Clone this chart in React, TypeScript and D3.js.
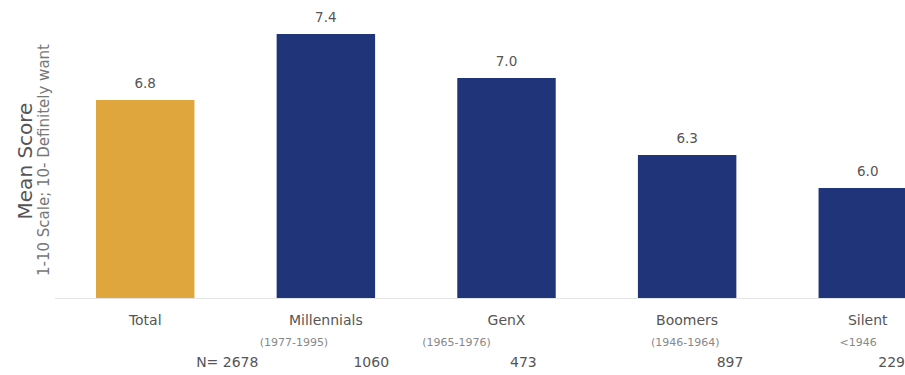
import React from "react";
import * as d3 from "d3";

const categories = ["Total", "Millennials", "GenX", "Boomers", "Silent"];
const scores = [6.8, 7.4, 7.0, 6.3, 6.0];
const birthYears = ["", "(1977-1995)", "(1965-1976)", "(1946-1964)", "<1946"];
const sampleSizes = ["N= 2678", "1060", "473", "897", "229"];
const scoreDomain = [5, 7.4];

const W = 905;
const H = 375;
const baseY = 298;
const FONT = "'DejaVu Sans', Verdana, sans-serif";

// horizontal nudges for the footnote rows, relative to each bar
const yearShift = [0, -17, -35, 13, 21];
const sizeShift = [64, 14, -19, 7, -12];

export default function App() {
  const x = d3.scaleBand<string>().domain(categories).range([55, 958]).paddingInner(0.455).paddingOuter(0.227);
  const y = d3.scaleLinear().domain(scoreDomain).range([baseY, 34]);
  const bw = x.bandwidth();

  return (
    <svg width={W} height={H} style={{ position: "absolute", left: 0, top: 0, background: "#fff" }} fontFamily={FONT}>
      <line x1={55} x2={W} y1={baseY + 0.5} y2={baseY + 0.5} stroke="#e4e4e4" strokeWidth={1} />
      {categories.map((c, i) => {
        const x0 = x(c)!;
        const cx = x0 + bw / 2;
        return (
          <g key={c}>
            <rect x={x0} y={y(scores[i])} width={bw} height={baseY - y(scores[i])} fill={i === 0 ? "#DFA63E" : "#1F3479"} />
            <text x={cx} y={y(scores[i]) - 12} textAnchor="middle" fontSize={13.5} fill="#555">
              {scores[i].toFixed(1)}
            </text>
            <text x={cx} y={325} textAnchor="middle" fontSize={14} fill="#555">
              {c}
            </text>
            {birthYears[i] && (
              <text x={x0 + yearShift[i]} y={346} fontSize={11} fill="#888">
                {birthYears[i]}
              </text>
            )}
            <text x={x0 + bw + sizeShift[i]} y={367} textAnchor="end" fontSize={14} fill="#555">
              {sampleSizes[i]}
            </text>
          </g>
        );
      })}
      <text transform="translate(32,161) rotate(-90)" textAnchor="middle" fontSize={20} fill="#555">
        Mean Score
      </text>
      <text transform="translate(49,160) rotate(-90)" textAnchor="middle" fontSize={15} fill="#777">
        1-10 Scale; 10- Definitely want
      </text>
    </svg>
  );
}
